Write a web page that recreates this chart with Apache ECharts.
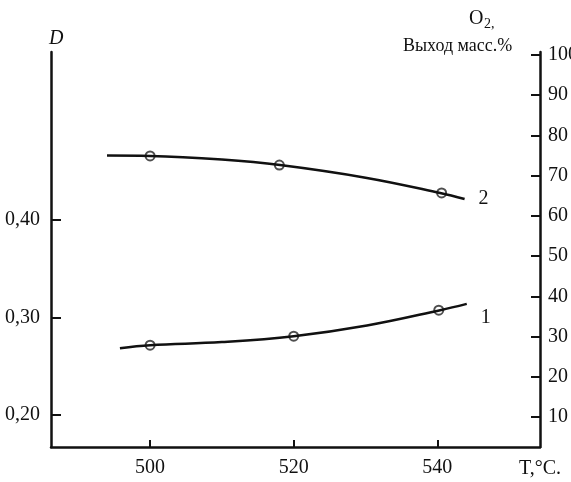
<!DOCTYPE html>
<html><head><meta charset="utf-8">
<script src="https://cdn.jsdelivr.net/npm/echarts@6/dist/echarts.min.js"></script>
<style>html,body{margin:0;padding:0;background:#fff}#c{width:571px;height:482px}</style>
</head><body><div id="c"></div>
<script>
// Curve 1: D (left axis) vs temperature
const curve1Line = [[495.8,0.2685],[500,0.2716],[510,0.2748],[520.0,0.2808],[530.2,0.2918],[540.4,0.3075],[544.1,0.3140]];
const curve1Points = [[500,0.2716],[520,0.2808],[540.2,0.3075]];
// Curve 2: O2 yield, mass % (right axis) vs temperature
const curve2Line = [[494.0,75.0],[500,74.9],[510,74.0],[518.1,72.65],[530,69.5],[540.4,65.7],[543.8,64.2]];
const curve2Points = [[500,74.9],[518,72.65],[540.6,65.7]];
const xTicks = [500,520,540];
const leftTicks = [0.20,0.30,0.40];
const rightTicks = [10,20,30,40,50,60,70,80,90,100];

const F = 'Liberation Serif';
const chart = echarts.init(document.getElementById('c'), null, {renderer:'canvas'});
const axisLine = {show:true, onZero:false, lineStyle:{color:'#111', width:2.5}};
chart.setOption({
  animation:false,
  grid:{left:51, right:31, top:52, bottom:35, outerBoundsMode:'none', containLabel:false},
  xAxis:{type:'value', min:486.2, max:554.3,
    axisLine:axisLine, splitLine:{show:false},
    axisTick:{show:true, inside:true, length:7, lineStyle:{color:'#111',width:2}, customValues:xTicks},
    axisLabel:{customValues:xTicks, margin:11, color:'#111', fontFamily:F, fontSize:20}},
  yAxis:[
    {type:'value', position:'left', min:0.1672, max:0.5723,
     axisLine:axisLine, splitLine:{show:false},
     axisTick:{show:true, inside:true, length:10, lineStyle:{color:'#111',width:2}, customValues:leftTicks},
     axisLabel:{customValues:leftTicks, margin:11, color:'#111', fontFamily:F, fontSize:20,
       formatter:v=>v.toFixed(2).replace('.',',')}},
    {type:'value', position:'right', min:2.54, max:100.75,
     axisLine:axisLine, splitLine:{show:false},
     axisTick:{show:true, inside:true, length:9, lineStyle:{color:'#111',width:2}, customValues:rightTicks},
     axisLabel:{customValues:rightTicks, margin:8, color:'#111', fontFamily:F, fontSize:20}}
  ],
  series:[
    {type:'line', yAxisIndex:0, data:curve1Line, smooth:0.4, showSymbol:false, symbol:'none',
     lineStyle:{color:'#111', width:2.5},
     endLabel:{show:true, formatter:'1', color:'#111', fontFamily:F, fontSize:20, offset:[6,14]}},
    {type:'scatter', yAxisIndex:0, data:curve1Points, symbol:'emptyCircle', symbolSize:9,
     itemStyle:{color:'#222', borderWidth:1.8}},
    {type:'line', yAxisIndex:1, data:curve2Line, smooth:0.4, showSymbol:false, symbol:'none',
     lineStyle:{color:'#111', width:2.5},
     endLabel:{show:true, formatter:'2', color:'#111', fontFamily:F, fontSize:20, offset:[6,0]}},
    {type:'scatter', yAxisIndex:1, data:curve2Points, symbol:'emptyCircle', symbolSize:9,
     itemStyle:{color:'#222', borderWidth:1.8}}
  ],
  graphic:[
    {type:'text', left:49, top:29, style:{text:'D', font:'italic 20px "Liberation Serif"', fill:'#111'}},
    {type:'text', left:469, top:9, style:{text:'O', font:'20px "Liberation Serif"', fill:'#111'}},
    {type:'text', left:484, top:17, style:{text:'2,', font:'14px "Liberation Serif"', fill:'#111'}},
    {type:'text', left:403, top:37, style:{text:'Выход масс.%', font:'18px "Liberation Serif"', fill:'#111'}},
    {type:'text', left:519, top:459, style:{text:'T,°C.', font:'20px "Liberation Serif"', fill:'#111'}}
  ]
});
</script></body></html>
